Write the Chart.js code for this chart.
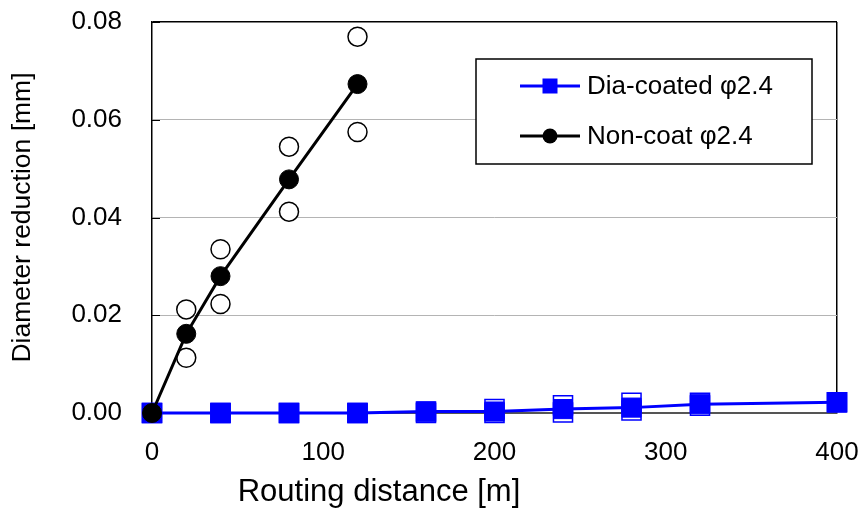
<!DOCTYPE html>
<html><head><meta charset="utf-8">
<script src="https://cdn.jsdelivr.net/npm/chart.js@4/dist/chart.umd.min.js"></script>
<style>html,body{margin:0;padding:0;background:#fff;}canvas{display:block;}</style>
</head><body>
<canvas id="c" width="863" height="511"></canvas>
<script>
const xTitle = 'Routing distance [m]';
const yTitle = 'Diameter reduction [mm]';
const seriesLabels = ['Dia-coated φ2.4', 'Non-coat φ2.4'];
const xTicks = [0, 100, 200, 300, 400];
const yTicks = [0, 0.02, 0.04, 0.06, 0.08];

// Dia-coated: mean and individual runs
const diaX     = [0, 40, 80, 120, 160, 200, 240, 280, 320, 400];
const diaMean  = [0, 0, 0, 0, 0.0003, 0.0003, 0.0008, 0.0011, 0.0018, 0.0022];
const diaRunA  = [0, 0, 0, 0, 0.0003, 0.0008, 0.0016, 0.0021, 0.0021, 0.0022];
const diaRunB  = [0, 0, 0, 0, 0.0000, 0.0000, 0.0001, 0.0005, 0.0015, 0.0022];

// Non-coat: mean and individual runs
const nonX    = [0, 20, 40, 80, 120];
const nonMean = [0, 0.0162, 0.0280, 0.0478, 0.0673];
const nonRunX = [20, 20, 40, 40, 80, 80, 120, 120];
const nonRunY = [0.0212, 0.0113, 0.0335, 0.0223, 0.0545, 0.0412, 0.0770, 0.0575];

const FONT = '"Liberation Sans", Arial, Helvetica, sans-serif';
const BLUE = '#0000ff';
const pts = (xs, ys) => xs.map((x, i) => ({x: x, y: ys[i]}));

const near = (a, b) => Math.abs(a - b) < 1e-9;

const decor = {
  id: 'decor',
  beforeDatasetsDraw(chart) {
    const {ctx, chartArea: a, scales: {y}} = chart;
    ctx.save();
    ctx.strokeStyle = '#000';
    ctx.lineWidth = 1;
    yTicks.forEach(v => {
      const py = Math.round(y.getPixelForValue(v)) + 0.5;
      ctx.beginPath(); ctx.moveTo(a.left, py); ctx.lineTo(a.left + 8, py); ctx.stroke();
    });
    ctx.restore();
  },
  afterDraw(chart) {
    const {ctx} = chart;
    ctx.save();
    // x axis title
    ctx.font = '31px ' + FONT;
    ctx.fillStyle = '#000';
    ctx.textAlign = 'center';
    ctx.textBaseline = 'alphabetic';
    ctx.fillText(xTitle, 379, 501);
    // legend box
    ctx.fillStyle = '#fff';
    ctx.fillRect(476, 59, 336, 105);
    ctx.strokeStyle = '#000';
    ctx.lineWidth = 1.5;
    ctx.strokeRect(476, 59, 336, 105);
    const rows = [86, 136];
    [0, 1].forEach(i => {
      const ds = chart.data.datasets[i];
      const yy = rows[i];
      ctx.strokeStyle = ds.borderColor;
      ctx.lineWidth = 3;
      ctx.beginPath(); ctx.moveTo(520, yy); ctx.lineTo(580, yy); ctx.stroke();
      ctx.fillStyle = ds.backgroundColor;
      if (ds.pointStyle === 'rect') {
        ctx.fillRect(542.5, yy - 7.5, 15, 15);
      } else {
        ctx.beginPath(); ctx.arc(550, yy, 7.5, 0, Math.PI * 2); ctx.fill();
      }
      ctx.fillStyle = '#000';
      ctx.font = '26px ' + FONT;
      ctx.textAlign = 'left';
      ctx.textBaseline = 'alphabetic';
      ctx.fillText(ds.label, 587, yy + 7.5);
    });
    ctx.restore();
  }
};

new Chart(document.getElementById('c'), {
  type: 'scatter',
  data: {
    datasets: [
      {
        label: seriesLabels[0], data: pts(diaX, diaMean), showLine: true,
        borderColor: BLUE, backgroundColor: BLUE, borderWidth: 3,
        pointStyle: 'rect', pointRadius: 13.5, pointBorderWidth: 1,
        order: 2, clip: false
      },
      {
        label: seriesLabels[1], data: pts(nonX, nonMean), showLine: true,
        borderColor: '#000', backgroundColor: '#000', borderWidth: 3,
        pointStyle: 'circle', pointRadius: 9.5, pointBorderWidth: 1,
        order: 0, clip: false
      },
      {
        label: 'dia-a', data: pts(diaX, diaRunA), showLine: false,
        pointStyle: 'rect', pointRadius: 13.5, pointBackgroundColor: '#fff',
        pointBorderColor: BLUE, pointBorderWidth: 1.5, order: 3, clip: false
      },
      {
        label: 'dia-b', data: pts(diaX, diaRunB), showLine: false,
        pointStyle: 'rect', pointRadius: 13.5, pointBackgroundColor: '#fff',
        pointBorderColor: BLUE, pointBorderWidth: 1.5, order: 3, clip: false
      },
      {
        label: 'non-runs', data: pts(nonRunX, nonRunY), showLine: false,
        pointStyle: 'circle', pointRadius: 9.5, pointBackgroundColor: '#fff',
        pointBorderColor: '#000', pointBorderWidth: 1.5, order: 1, clip: false
      }
    ]
  },
  options: {
    responsive: false,
    devicePixelRatio: 1,
    animation: false,
    events: [],
    layout: {autoPadding: false, padding: {left: 0, top: 22, right: 26, bottom: 0}},
    plugins: {legend: {display: false}, tooltip: {enabled: false}, title: {display: false}},
    scales: {
      x: {
        type: 'linear', min: 0, max: 400,
        afterBuildTicks: s => { s.ticks = xTicks.map(v => ({value: v})); },
        afterFit: s => { s.height = 98; },
        ticks: {padding: 0, color: '#000', font: {family: FONT, size: 26}},
        grid: {
          drawTicks: true, tickLength: 24, tickColor: 'rgba(0,0,0,0)',
          color: c => (c.tick && c.tick.value === 400) ? '#000' : 'rgba(0,0,0,0)',
          lineWidth: 1.5
        },
        border: {color: '#555', width: 2}
      },
      y: {
        type: 'linear', min: 0, max: 0.08,
        afterBuildTicks: s => { s.ticks = yTicks.map(v => ({value: v})); },
        afterFit: s => { s.width = 152; },
        ticks: {padding: 0, color: '#000', font: {family: FONT, size: 26},
                callback: v => Number(v).toFixed(2)},
        grid: {
          drawTicks: true, tickLength: 30, tickColor: 'rgba(0,0,0,0)',
          color: c => {
            const v = c.tick ? c.tick.value : -1;
            if (near(v, 0.08)) return '#000';
            if (near(v, 0)) return '#555';
            return '#b4b4b4';
          },
          lineWidth: c => {
            const v = c.tick ? c.tick.value : -1;
            if (near(v, 0.08)) return 1.5;
            if (near(v, 0)) return 2;
            return 1;
          }
        },
        border: {color: '#000', width: 1.5},
        title: {display: true, text: yTitle, color: '#000',
                font: {family: FONT, size: 26.5}, padding: {top: 7, bottom: 0}}
      }
    }
  },
  plugins: [decor]
});
</script>
</body></html>
